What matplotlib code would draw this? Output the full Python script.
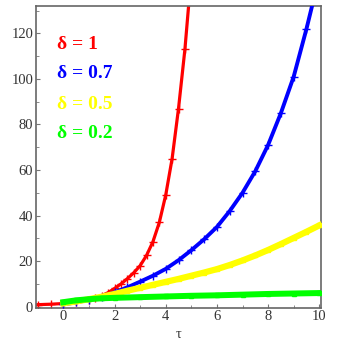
import numpy as np
import matplotlib.pyplot as plt
from matplotlib.ticker import MultipleLocator

# valeurs
tau_r = [-1, -0.5, 0, 0.5, 1, 1.25, 1.5, 1.75, 2, 2.25, 2.5, 2.75, 3, 3.25, 3.5, 3.75, 4, 4.25, 4.5, 4.75, 5]
val_r = [0.9, 1.1, 1.4, 2.0, 3.0, 3.8, 4.8, 6.2, 8.0, 10.0, 12.3, 14.9, 18.0, 22.5, 28.5, 37, 49, 65, 87, 113, 146]

tau_b = [0, 0.5, 1, 1.5, 2, 2.5, 3, 3.5, 4, 4.5, 5, 5.5, 6, 6.5, 7, 7.5, 8, 8.5, 9, 9.5, 10]
val_b = [1.0, 1.9, 3.0, 4.4, 6.3, 8.5, 11, 13.6, 16.6, 20.4, 24.8, 29.6, 35, 42, 50, 59.5, 71, 85, 101, 122, 145]

tau_y = [0, 0.5, 1, 1.5, 2, 2.5, 3, 3.5, 4, 4.5, 5, 5.5, 6, 6.5, 7, 7.5, 8, 8.5, 9, 9.5, 10]
val_y = [1.5, 2.3, 3.3, 4.4, 5.6, 7.0, 8.3, 9.6, 10.9, 12.2, 13.6, 15.0, 16.5, 18.3, 20.3, 22.5, 24.9, 27.5, 30.2, 32.9, 35.7]

tau_g = [0, 0.5, 1, 1.5, 2, 3, 4, 5, 6, 7, 8, 9, 10]
val_g = [2.0, 2.8, 3.3, 3.7, 3.9, 4.2, 4.5, 4.8, 5.0, 5.3, 5.6, 5.8, 6.0]

labels = ["\u03b4 = 1", "\u03b4 = 0.7", "\u03b4 = 0.5", "\u03b4 = 0.2"]
couleurs = ["#ff0000", "#0000ff", "#ffff00", "#00ff00"]

plt.rcParams['font.family'] = ['Liberation Serif', 'DejaVu Serif']

fig = plt.figure(figsize=(3.49, 3.54), dpi=100)
ax = fig.add_axes([0.103, 0.131, 0.817, 0.852])

ax.plot(tau_r, val_r, color=couleurs[0], lw=2.3, marker='+', ms=5.5, mew=1, zorder=2)
ax.plot(tau_b, val_b, color=couleurs[1], lw=2.8, marker='+', ms=5.5, mew=1, zorder=3)
ax.plot(tau_y, val_y, color=couleurs[2], lw=4.5, marker='s', ms=3.5, zorder=4)
ax.plot(tau_g, val_g, color=couleurs[3], lw=4.3, marker='s', ms=3.5, zorder=5)

ax.set_xlim(-1.07, 10.07)
ax.set_ylim(-0.4, 132)
ax.xaxis.set_major_locator(MultipleLocator(2))
ax.xaxis.set_minor_locator(MultipleLocator(1))
ax.yaxis.set_major_locator(MultipleLocator(20))
ax.yaxis.set_minor_locator(MultipleLocator(10))
ax.tick_params(which='both', direction='in', color='#777777', labelsize=10.5, labelcolor='#333333', pad=2)
ax.tick_params(which='major', length=3)
ax.tick_params(which='minor', length=2)
ax.tick_params(top=False, right=False)
for s in ax.spines.values():
    s.set_color('#666666')
    s.set_linewidth(1.2)

ax.set_xlabel("\u03c4", fontsize=10.5, color='#333333', labelpad=3)

# légende écrite à la main en haut à gauche
y_txt = [0.871, 0.777, 0.675, 0.578]
for lab, c, yy in zip(labels, couleurs, y_txt):
    ax.text(0.074, yy, lab, transform=ax.transAxes, color=c, fontsize=14,
            fontweight='bold', va='center', ha='left')

fig.savefig("out.png", dpi=100)
